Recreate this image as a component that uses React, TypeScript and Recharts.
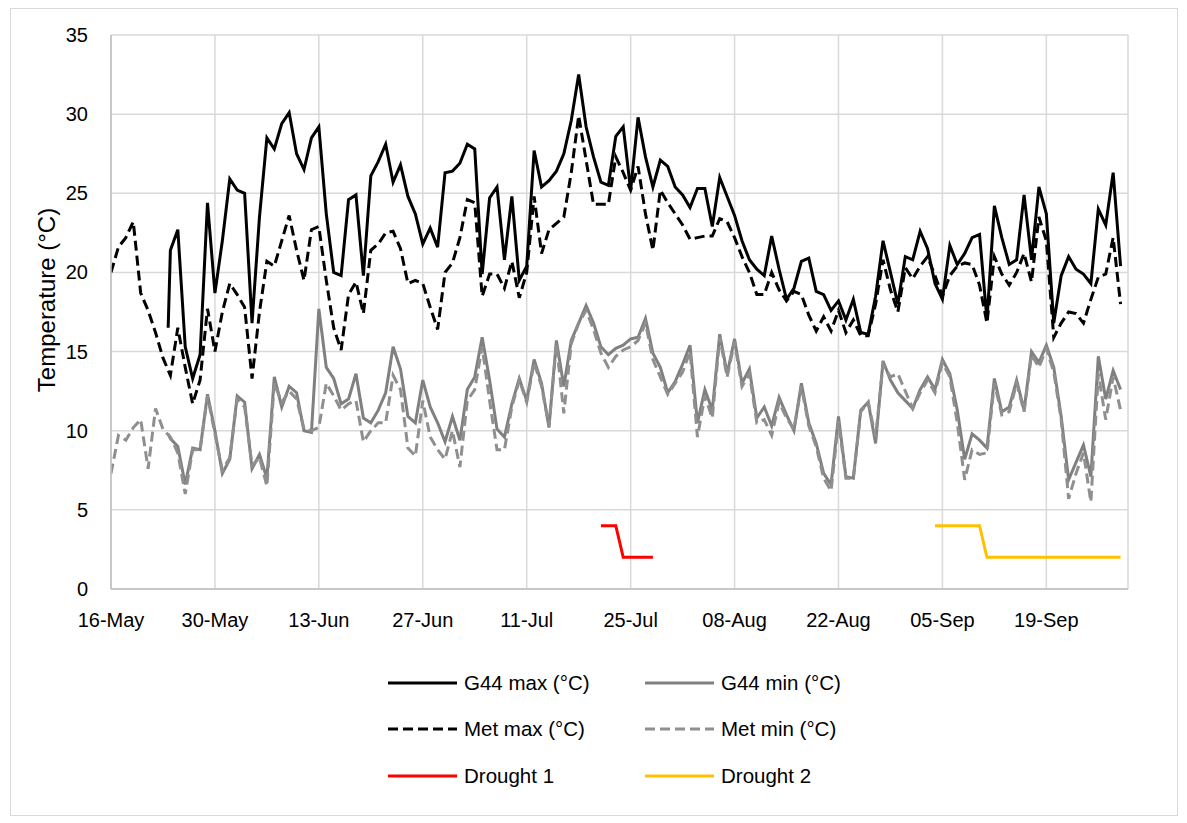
import React from 'react'
import { LineChart, Line, XAxis, YAxis, CartesianGrid } from 'recharts'

// x is counted in days from 16-May
const tickDays = [0, 14, 28, 42, 56, 70, 84, 98, 112, 126]
const tickLabels = ['16-May', '30-May', '13-Jun', '27-Jun', '11-Jul', '25-Jul', '08-Aug', '22-Aug', '05-Sep', '19-Sep']
const yTicks = [0, 5, 10, 15, 20, 25, 30, 35]

// Met station, daily from 16-May
const metMax = [
  20.0, 21.6, 22.2, 23.2, 18.7, 17.6, 16.2, 14.6, 13.5, 16.5, 14.0, 11.7, 13.2, 17.7, 15.0, 17.5,
  19.3, 18.6, 17.8, 13.3, 17.5, 20.7, 20.4, 22.0, 23.6, 21.4, 19.5, 22.7, 22.9, 19.5, 16.5, 15.1,
  18.6, 19.4, 17.4, 21.4, 21.8, 22.5, 22.6, 21.5, 19.3, 19.5, 19.3, 17.8, 16.4, 20.0, 20.6, 22.2,
  24.6, 24.4, 18.5, 19.9, 19.9, 19.0, 20.7, 18.4, 20.0, 24.8, 21.2, 22.7, 23.1, 23.5, 26.3, 29.9,
  27.1, 24.3, 24.3, 24.3, 27.3, 26.3, 25.2, 26.7, 23.7, 21.4, 25.2, 24.4, 23.7, 23.0, 22.1, 22.2,
  22.3, 22.3, 23.4, 23.2, 22.2, 21.0, 20.0, 18.6, 18.6, 20.0, 18.9, 18.2, 18.8, 18.6, 17.3, 16.3,
  17.2, 16.3, 17.6, 16.2, 17.0, 16.0, 16.0, 18.0, 20.8, 18.9, 17.5, 20.3, 19.6, 20.4, 21.0, 19.8,
  18.5, 19.8, 20.4, 20.6, 20.5, 19.2, 16.8, 21.0, 19.9, 19.2, 20.0, 21.2, 19.4, 23.5, 22.0, 15.9,
  16.8, 17.5, 17.4, 16.8, 18.3, 19.7, 19.9, 22.2, 18.0,
]
const metMin = [
  7.3, 9.7, 9.4, 10.2, 10.7, 7.6, 11.4, 10.1, 9.6, 8.6, 6.0, 8.8, 8.8, 12.2, 9.8, 7.5,
  8.3, 12.0, 11.5, 7.8, 8.3, 6.5, 13.0, 11.8, 12.5, 12.0, 10.1, 10.0, 10.2, 13.0, 12.2, 11.3,
  11.7, 11.9, 9.3, 10.0, 10.5, 10.5, 13.5, 12.6, 8.9, 8.4, 11.9, 9.6, 8.8, 8.2, 10.0, 7.7,
  11.9, 12.6, 15.3, 11.9, 8.8, 8.8, 11.5, 13.2, 11.8, 14.3, 12.8, 10.3, 15.5, 11.1, 15.5, 16.8,
  17.6, 16.4, 14.9, 14.0, 14.7, 15.1, 15.3, 15.7, 16.8, 14.5, 13.4, 12.3, 13.0, 13.7, 15.0, 9.6,
  12.2, 10.8, 15.9, 13.4, 15.6, 12.8, 13.6, 10.5, 10.7, 9.7, 11.8, 10.8, 10.1, 12.8, 10.3, 9.0,
  7.0, 6.2, 10.6, 7.0, 7.0, 11.2, 11.8, 9.6, 14.2, 13.4, 13.6, 12.5, 11.4, 12.4, 13.2, 12.4,
  14.3, 13.4, 10.5, 6.9, 8.8, 8.5, 8.6, 13.0, 11.0, 11.2, 13.0, 11.2, 14.8, 14.0, 15.2, 13.7,
  10.7, 5.7, 7.3, 8.6, 5.5, 13.6, 10.7, 13.4, 11.3,
]

// G44 logger: first reading late on 23-May, then daily from 24-May
const g44FirstDay = 7.7
const g44Max = [
  16.5, 21.4, 22.7, 15.3, 13.3, 14.8, 24.4, 18.7, 22.0, 25.9, 25.2, 25.0, 16.8, 23.5, 28.5, 27.8,
  29.4, 30.1, 27.5, 26.5, 28.5, 29.2, 23.7, 20.0, 19.8, 24.6, 24.9, 19.8, 26.1, 27.0, 28.1, 25.7,
  26.8, 24.8, 23.7, 21.8, 22.8, 21.6, 26.3, 26.4, 26.9, 28.1, 27.8, 19.9, 24.7, 25.4, 20.8, 24.8,
  19.5, 20.4, 27.7, 25.4, 25.8, 26.4, 27.5, 29.6, 32.5, 29.2, 27.3, 25.7, 25.5, 28.6, 29.2, 25.2,
  29.8, 27.3, 25.4, 27.1, 26.7, 25.4, 24.9, 24.1, 25.3, 25.3, 22.9, 26.0, 24.8, 23.6, 22.0, 20.8,
  20.2, 19.8, 22.3, 20.2, 18.3, 19.0, 20.7, 20.9, 18.8, 18.6, 17.6, 18.2, 17.0, 18.3, 16.2, 16.1,
  18.5, 22.0, 20.0, 18.0, 21.0, 20.8, 22.6, 21.5, 19.3, 18.3, 21.7, 20.5, 21.2, 22.2, 22.4, 17.0,
  24.2, 22.2, 20.5, 20.8, 24.9, 20.8, 25.4, 23.7, 16.8, 19.8, 21.0, 20.2, 19.9, 19.3, 24.0, 23.0,
  26.3, 20.4,
]
const g44Min = [
  9.8, 9.5, 9.0, 6.6, 8.9, 8.8, 12.3, 10.0, 7.3, 8.2, 12.2, 11.8, 7.6, 8.5, 7.0, 13.4,
  11.5, 12.8, 12.4, 10.0, 9.9, 17.7, 14.0, 13.3, 11.7, 12.0, 13.6, 10.8, 10.5, 11.3, 12.4, 15.3,
  13.9, 10.9, 10.5, 13.2, 11.5, 10.5, 9.3, 10.9, 9.4, 12.6, 13.4, 15.9, 13.2, 10.1, 9.6, 11.7,
  13.3, 11.9, 14.5, 13.0, 10.2, 15.7, 12.8, 15.7, 16.8, 17.9, 16.8, 15.3, 14.8, 15.2, 15.4, 15.8,
  15.9, 17.1, 14.9, 14.0, 12.4, 13.1, 14.2, 15.4, 10.5, 12.6, 11.3, 16.1, 13.6, 15.8, 13.0, 13.9,
  10.8, 11.5, 10.3, 12.1, 11.0, 10.0, 13.0, 10.5, 9.2, 7.3, 6.6, 10.9, 7.1, 7.0, 11.3, 11.8,
  9.2, 14.4, 13.2, 12.4, 11.9, 11.4, 12.6, 13.4, 12.6, 14.5, 13.6, 11.3, 8.2, 9.8, 9.4, 8.9,
  13.3, 11.2, 11.5, 13.2, 11.3, 15.0, 14.3, 15.4, 14.0, 10.9, 6.9, 8.0, 9.1, 7.1, 14.7, 12.0,
  13.8, 12.6,
]

// drought treatment levels
const drought1Start = 66
const drought1 = [4, 4, 4, 2, 2, 2, 2, 2]
const drought2Start = 111
const drought2 = [4, 4, 4, 4, 4, 4, 4, 2, 2, 2, 2, 2, 2, 2, 2, 2, 2, 2, 2, 2, 2, 2, 2, 2, 2, 2]

const daily = (values: number[], first: number) => values.map((v, i) => ({ day: first + i, v }))
const g44 = (values: number[]) => [
  { day: g44FirstDay, v: values[0] },
  ...daily(values.slice(1), Math.ceil(g44FirstDay)),
]

const FONT = '"Liberation Sans", Arial, sans-serif'
const GRID = '#d9d9d9'

const series = [
  { name: 'G44 max (°C)', data: g44(g44Max), color: '#000000', dash: undefined as string | undefined },
  { name: 'G44 min (°C)', data: g44(g44Min), color: '#808080', dash: undefined },
  { name: 'Met max (°C)', data: daily(metMax, 0), color: '#000000', dash: '10 5' },
  { name: 'Met min (°C)', data: daily(metMin, 0), color: '#8f8f8f', dash: '10 5' },
  { name: 'Drought 1', data: daily(drought1, drought1Start), color: '#ff0000', dash: undefined },
  { name: 'Drought 2', data: daily(drought2, drought2Start), color: '#ffc000', dash: undefined },
]

// legend layout as in the reference: two columns, three rows
const legendOrder = [
  ['G44 max (°C)', 'G44 min (°C)'],
  ['Met max (°C)', 'Met min (°C)'],
  ['Drought 1', 'Drought 2'],
]

function XTick(props: any) {
  const { x, y, payload } = props
  const i = tickDays.indexOf(payload.value)
  return (
    <text x={x} y={y + 30} textAnchor="middle" fontSize={20} fontFamily={FONT} fill="#000">
      {tickLabels[i]}
    </text>
  )
}

function YTick(props: any) {
  const { x, y, payload } = props
  return (
    <text x={x - 15} y={y + 7} textAnchor="end" fontSize={20} fontFamily={FONT} fill="#000">
      {payload.value}
    </text>
  )
}

function Legend() {
  const cols = [388, 645]
  const rows = [683, 729, 776]
  return (
    <svg width={1187} height={823} style={{ position: 'absolute', left: 0, top: 0, pointerEvents: 'none' }}>
      {legendOrder.map((row, r) =>
        row.map((name, c) => {
          const s = series.find((d) => d.name === name)!
          const x = cols[c]
          const y = rows[r]
          return (
            <g key={name}>
              <line x1={x} x2={x + 69} y1={y} y2={y} stroke={s.color} strokeWidth={3} strokeDasharray={s.dash} />
              <text x={x + 76} y={y + 7} fontSize={20.5} fontFamily={FONT} fill="#000">
                {name}
              </text>
            </g>
          )
        })
      )}
    </svg>
  )
}

export default function App() {
  return (
    <div style={{ position: 'absolute', left: 0, top: 0, width: 1187, height: 823, background: '#fff' }}>
      <div style={{ position: 'absolute', left: 10, top: 8, width: 1166, height: 806, border: '1px solid #d9d9d9' }} />
      <LineChart width={1187} height={823} margin={{ top: 35, right: 59, bottom: 204, left: 0 }}>
        <CartesianGrid stroke={GRID} strokeWidth={1.5} />
        <XAxis
          type="number"
          dataKey="day"
          domain={[0, 137]}
          ticks={tickDays}
          interval={0}
          height={30}
          tickLine={false}
          axisLine={{ stroke: '#bfbfbf', strokeWidth: 1.5 }}
          tick={<XTick />}
          allowDataOverflow
        />
        <YAxis
          type="number"
          domain={[0, 35]}
          ticks={yTicks}
          interval={0}
          width={111}
          tickLine={false}
          axisLine={{ stroke: '#bfbfbf', strokeWidth: 1.5 }}
          tick={<YTick />}
          label={{
            content: () => (
              <text
                x={46}
                y={300}
                transform="rotate(-90, 46, 300)"
                textAnchor="middle"
                dominantBaseline="central"
                fontSize={24}
                fontFamily={FONT}
                fill="#000"
              >
                Temperature (°C)
              </text>
            ),
          }}
        />
        {series.map((s) => (
          <Line
            key={s.name}
            name={s.name}
            data={s.data}
            dataKey="v"
            type="linear"
            stroke={s.color}
            strokeWidth={3}
            strokeDasharray={s.dash}
            dot={false}
            activeDot={false}
            isAnimationActive={false}
          />
        ))}
      </LineChart>
      <Legend />
    </div>
  )
}
